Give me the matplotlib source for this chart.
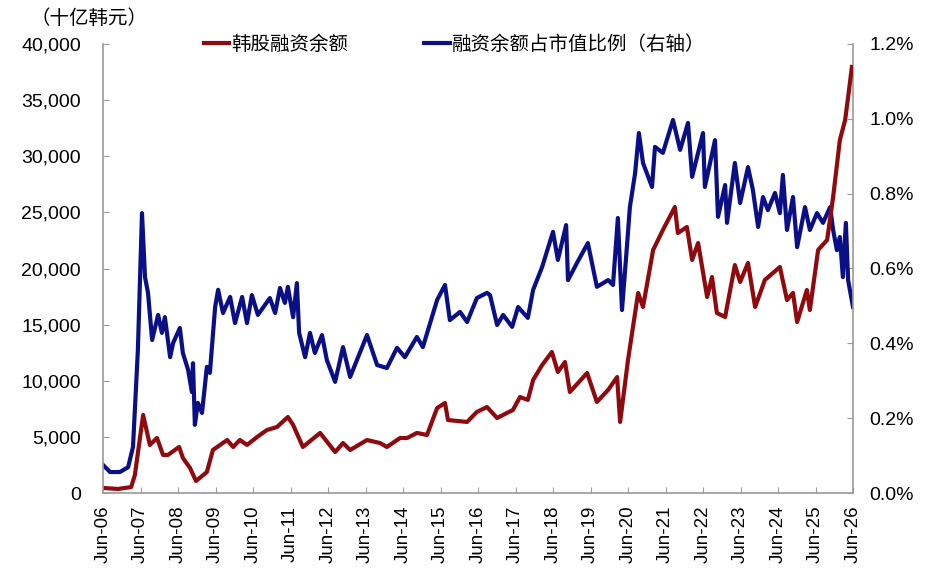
import matplotlib
matplotlib.use("Agg")
import matplotlib.pyplot as plt
from matplotlib.ticker import FuncFormatter, MultipleLocator

plt.rcParams['font.family'] = ['Liberation Sans', 'Noto Sans CJK SC', 'DejaVu Sans']

# ---- data (decimal years) ----
red_t = [2006.50, 2006.90, 2007.25, 2007.35, 2007.46, 2007.57, 2007.75, 2007.94, 2008.10, 2008.23,
         2008.53, 2008.63, 2008.82, 2008.98, 2009.27, 2009.43, 2009.81, 2009.97, 2010.15, 2010.34,
         2010.61, 2010.87, 2011.14, 2011.43, 2011.57, 2011.83, 2012.29, 2012.69, 2012.90, 2013.09,
         2013.54, 2013.89, 2014.07, 2014.42, 2014.61, 2014.87, 2015.14, 2015.41, 2015.62, 2015.70,
         2016.21, 2016.47, 2016.74, 2017.01, 2017.27, 2017.43, 2017.62, 2017.83, 2017.97, 2018.21,
         2018.47, 2018.63, 2018.82, 2018.95, 2019.41, 2019.67, 2019.97, 2020.21, 2020.29, 2020.50,
         2020.77, 2020.90, 2021.17, 2021.43, 2021.75, 2021.83, 2022.07, 2022.21, 2022.37, 2022.61,
         2022.74, 2022.87, 2023.09, 2023.35, 2023.49, 2023.70, 2023.89, 2024.15, 2024.55, 2024.74,
         2024.90, 2025.01, 2025.27, 2025.35, 2025.57, 2025.81, 2025.97, 2026.15, 2026.29, 2026.37,
         2026.47]
red_v = [450, 360, 530, 1600, 4280, 6950, 4280, 4900, 3390, 3390,
         4100, 3120, 2230, 1070, 1870, 3830, 4720, 4100, 4720, 4280,
         4990, 5610, 5880, 6770, 6060, 4100, 5350, 3650, 4450, 3830,
         4720, 4450, 4100, 4900, 4900, 5350, 5170, 7570, 8020, 6500,
         6330, 7220, 7660, 6680, 7130, 7390, 8550, 8290, 10070, 11400,
         12560, 10780, 11670, 9000, 10690, 8110, 9180, 10330, 6330, 11850,
         17820, 16570, 21650, 23430, 25480, 23160, 23700, 20760, 22270, 17460,
         19240, 16040, 15680, 20310, 18800, 20490, 16570, 18980, 20130, 17190,
         17820, 15230, 18090, 16300, 21650, 22540, 26370, 31450, 33230, 35280,
         37950]

blue_t = [2006.50, 2006.69, 2006.95, 2007.17, 2007.30, 2007.43, 2007.54, 2007.62, 2007.70, 2007.81,
          2007.97, 2008.07, 2008.15, 2008.29, 2008.37, 2008.55, 2008.63, 2008.77, 2008.87, 2008.90,
          2008.95, 2009.03, 2009.14, 2009.27, 2009.35, 2009.49, 2009.57, 2009.70, 2009.89, 2010.02,
          2010.21, 2010.34, 2010.47, 2010.63, 2010.95, 2011.09, 2011.22, 2011.35, 2011.43, 2011.57,
          2011.67, 2011.73, 2011.89, 2012.02, 2012.15, 2012.34, 2012.47, 2012.69, 2012.90, 2013.09,
          2013.27, 2013.54, 2013.81, 2014.07, 2014.34, 2014.55, 2014.87, 2015.03, 2015.41, 2015.62,
          2015.75, 2016.02, 2016.21, 2016.47, 2016.74, 2016.82, 2017.01, 2017.17, 2017.41, 2017.57,
          2017.83, 2017.97, 2018.21, 2018.50, 2018.63, 2018.85, 2018.90, 2019.14, 2019.43, 2019.67,
          2019.97, 2020.10, 2020.23, 2020.34, 2020.47, 2020.55, 2020.69, 2020.79, 2020.90, 2021.14,
          2021.22, 2021.43, 2021.70, 2021.89, 2022.10, 2022.21, 2022.50, 2022.55, 2022.82, 2022.90,
          2023.09, 2023.14, 2023.35, 2023.49, 2023.70, 2023.83, 2023.97, 2024.10, 2024.23, 2024.42,
          2024.55, 2024.63, 2024.74, 2024.90, 2025.01, 2025.22, 2025.35, 2025.54, 2025.70, 2025.89,
          2025.97, 2026.07, 2026.15, 2026.23, 2026.31, 2026.37, 2026.50]
blue_v = [0.075, 0.056, 0.056, 0.069, 0.123, 0.382, 0.748, 0.577, 0.535, 0.409,
          0.476, 0.428, 0.470, 0.363, 0.401, 0.441, 0.374, 0.329, 0.270, 0.347,
          0.182, 0.241, 0.214, 0.337, 0.321, 0.497, 0.543, 0.481, 0.524, 0.454,
          0.524, 0.454, 0.529, 0.476, 0.521, 0.481, 0.548, 0.508, 0.551, 0.470,
          0.561, 0.428, 0.363, 0.428, 0.374, 0.422, 0.355, 0.297, 0.390, 0.310,
          0.355, 0.422, 0.342, 0.334, 0.388, 0.363, 0.417, 0.390, 0.516, 0.556,
          0.462, 0.484, 0.457, 0.521, 0.535, 0.529, 0.449, 0.476, 0.444, 0.497,
          0.468, 0.543, 0.604, 0.698, 0.623, 0.716, 0.569, 0.615, 0.668, 0.551,
          0.569, 0.556, 0.735, 0.489, 0.657, 0.764, 0.855, 0.962, 0.882, 0.818,
          0.925, 0.909, 0.997, 0.917, 0.989, 0.845, 0.962, 0.818, 0.943, 0.738,
          0.823, 0.722, 0.882, 0.775, 0.871, 0.810, 0.711, 0.791, 0.756, 0.802,
          0.748, 0.850, 0.703, 0.791, 0.657, 0.764, 0.703, 0.748, 0.722, 0.764,
          0.703, 0.649, 0.684, 0.577, 0.722, 0.569, 0.497]

x_ticks = [2006.5 + i for i in range(21)]
x_labels = ['Jun-%02d' % (6 + i) for i in range(21)]

red_name = '韩股融资余额'
blue_name = '融资余额占市值比例（右轴）'
unit_label = '（十亿韩元）'

RED = '#8E0A0E'
BLUE = '#0B0F85'
GRAY = '#9A9A9A'

fig = plt.figure(figsize=(9.4, 5.75), dpi=100)
ax = fig.add_axes([103/940, 1-493/575, (853-103)/940, (493-44)/575])
ax2 = ax.twinx()

l2, = ax2.plot(blue_t, blue_v, color=BLUE, lw=3.0, solid_joinstyle='round', label=blue_name)
l1, = ax.plot(red_t, red_v, color=RED, lw=3.0, solid_joinstyle='round', label=red_name)
ax.set_zorder(ax2.get_zorder() + 1)
ax.patch.set_visible(False)

ax.set_xlim(2006.5, 2026.5)
ax.set_ylim(0, 40000)
ax2.set_ylim(0, 1.2)
ax.yaxis.set_major_locator(MultipleLocator(5000))
ax2.yaxis.set_major_locator(MultipleLocator(0.2))
ax.yaxis.set_major_formatter(FuncFormatter(lambda v, p: f'{int(v):,}'))
ax2.yaxis.set_major_formatter(FuncFormatter(lambda v, p: f'{v:.1f}%'))
ax.set_xticks(x_ticks)
ax.set_xticklabels(x_labels, rotation=90)

for a in (ax, ax2):
    a.spines['top'].set_visible(False)
    for s in ('left', 'right', 'bottom'):
        a.spines[s].set_color(GRAY)
        a.spines[s].set_linewidth(1.2)
ax.spines['right'].set_visible(False)
ax2.spines['left'].set_visible(False)
ax2.spines['bottom'].set_visible(False)

ax.tick_params(axis='y', direction='in', length=4, color=GRAY, labelsize=14, pad=16)
ax.tick_params(axis='x', direction='in', length=4, color=GRAY, labelsize=13.5, pad=9)
ax2.tick_params(axis='y', direction='in', length=4, color=GRAY, labelsize=14, pad=12)

fig.text(89/940, 1-18/575, unit_label, ha='center', va='center', fontsize=14,
         family=['Noto Sans CJK SC', 'DejaVu Sans'])

leg = fig.legend([l1, l2], [red_name, blue_name], loc='center left',
                 bbox_to_anchor=(204/940, 1-44/575), ncol=2, frameon=False,
                 handlelength=1.3, handletextpad=0.12, columnspacing=3.9,
                 borderpad=0, borderaxespad=0,
                 prop={'family': ['Noto Sans CJK SC', 'DejaVu Sans'], 'size': 14})

fig.savefig('out.png', dpi=100)
